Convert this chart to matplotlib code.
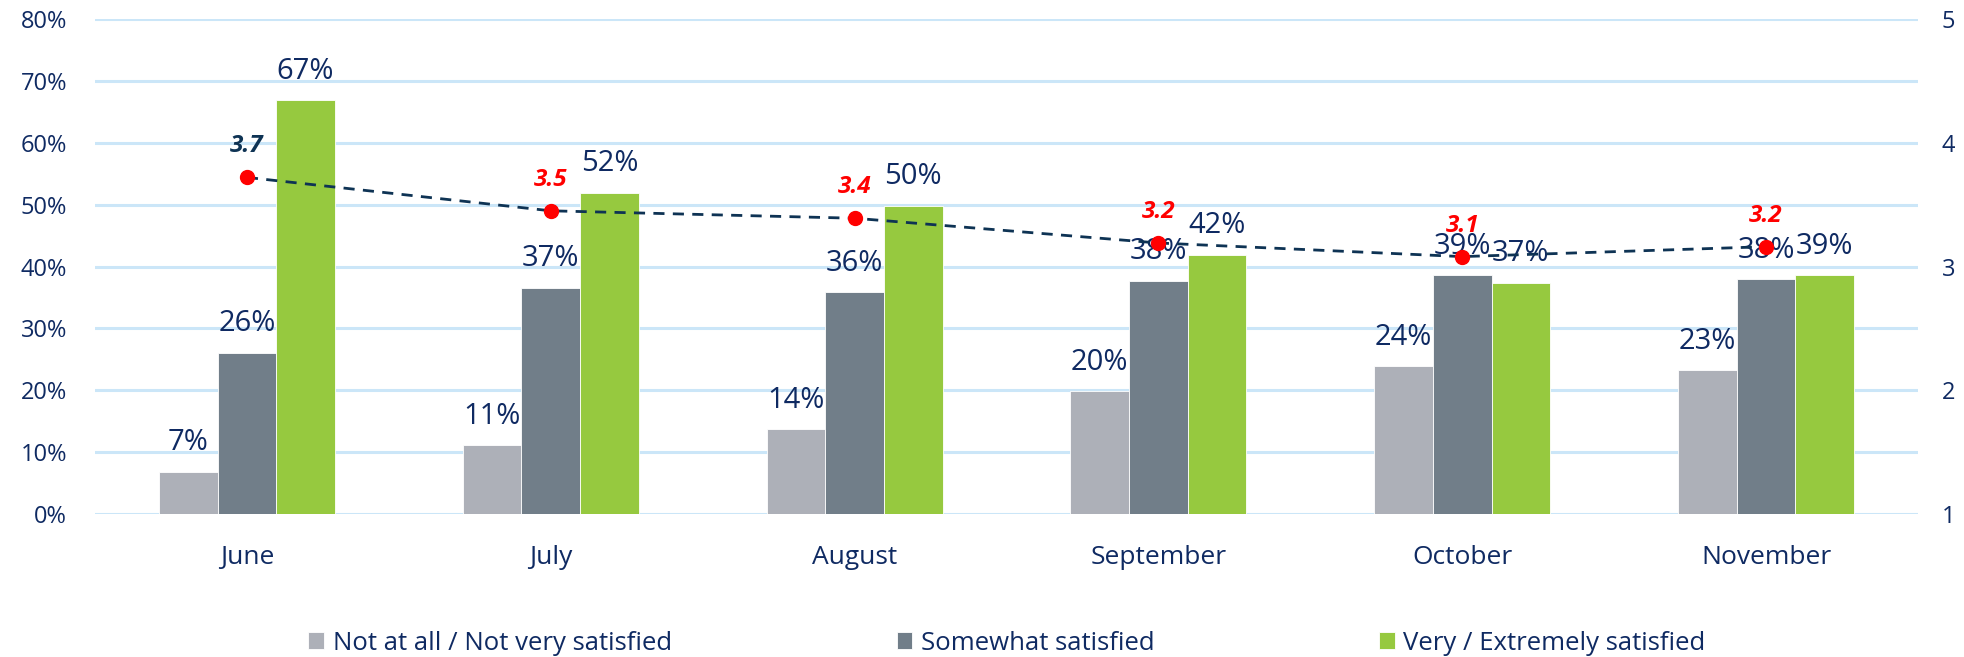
import matplotlib
matplotlib.use("Agg")
import matplotlib.pyplot as plt
import numpy as np
from matplotlib.ticker import PercentFormatter

plt.rcParams['font.family'] = ['Open Sans', 'DejaVu Sans']

months = ["June", "July", "August", "September", "October", "November"]
series_names = ["Not at all / Not very satisfied", "Somewhat satisfied", "Very / Extremely satisfied"]
not_satisfied = [6.8, 11.1, 13.7, 19.8, 23.9, 23.2]
somewhat = [26.1, 36.6, 35.8, 37.7, 38.6, 37.9]
very = [66.9, 51.9, 49.8, 41.9, 37.4, 38.6]
avg_score = [3.72, 3.45, 3.39, 3.19, 3.08, 3.16]

bar_colors = ["#ADB0B8", "#717E89", "#96C93F"]
navy = "#0F2A62"
line_color = "#0E3354"
grid_color = "#CBE6F8"

W, H, DPI = 1964, 657, 100
fig = plt.figure(figsize=(W / DPI, H / DPI), dpi=DPI)
ax = fig.add_axes([95 / W, 143 / H, (1918 - 95) / W, (514 - 19) / H])

x = np.arange(len(months))
bw = 0.193
for i, (vals, col, name) in enumerate(zip([not_satisfied, somewhat, very], bar_colors, series_names)):
    pos = x + (i - 1) * bw
    ax.bar(pos, vals, width=bw, color=col, label=name, zorder=2,
           edgecolor="white", linewidth=0.6)
    for xp, v in zip(pos, vals):
        ax.annotate(f"{v:.0f}%", (xp, v), xytext=(0, 15.5), textcoords="offset points",
                    ha="center", va="baseline", fontsize=21, color=navy, zorder=5)

ax.set_xlim(-0.5, len(months) - 0.5)
ax.set_ylim(0, 80)
ax.set_yticks(np.arange(0, 81, 10))
ax.yaxis.set_major_formatter(PercentFormatter(decimals=0))
ax.grid(axis="y", color=grid_color, linewidth=2.2, zorder=0)
ax.set_axisbelow(True)
ax.set_xticks(x)
ax.set_xticklabels(months)
ax.tick_params(axis="x", length=0, pad=22, labelsize=19, labelcolor=navy)
ax.tick_params(axis="y", length=0, pad=20, labelsize=17, labelcolor=navy)
for s in ax.spines.values():
    s.set_visible(False)

ax2 = ax.twinx()
ax2.set_ylim(1, 5)
ax2.set_yticks([1, 2, 3, 4, 5])
ax2.tick_params(axis="y", length=0, pad=17, labelsize=17, labelcolor=navy)
for s in ax2.spines.values():
    s.set_visible(False)
ax2.plot(x, avg_score, color=line_color, linestyle=(0, (4, 3)), linewidth=2.0, zorder=3)
ax2.plot(x, avg_score, linestyle="none", marker="o", markersize=10, color="#FF0000", zorder=4)
for i, (xp, v) in enumerate(zip(x, avg_score)):
    ax2.annotate(f"{v:.1f}", (xp, v), xytext=(0, 18), textcoords="offset points",
                 ha="center", va="baseline", fontsize=17.5, fontweight="bold", fontstyle="italic",
                 color=line_color if i == 0 else "#FF0000", zorder=6)

handles, labels = ax.get_legend_handles_labels()
fig.legend(handles, labels, loc="center", bbox_to_anchor=(1007 / W, 1 - 643 / H), ncol=3,
           frameon=False, fontsize=18.5, labelcolor=navy, handlelength=0.62, handleheight=0.62,
           handletextpad=0.32, columnspacing=8.75, borderaxespad=0)

fig.savefig("out.png", dpi=DPI)
